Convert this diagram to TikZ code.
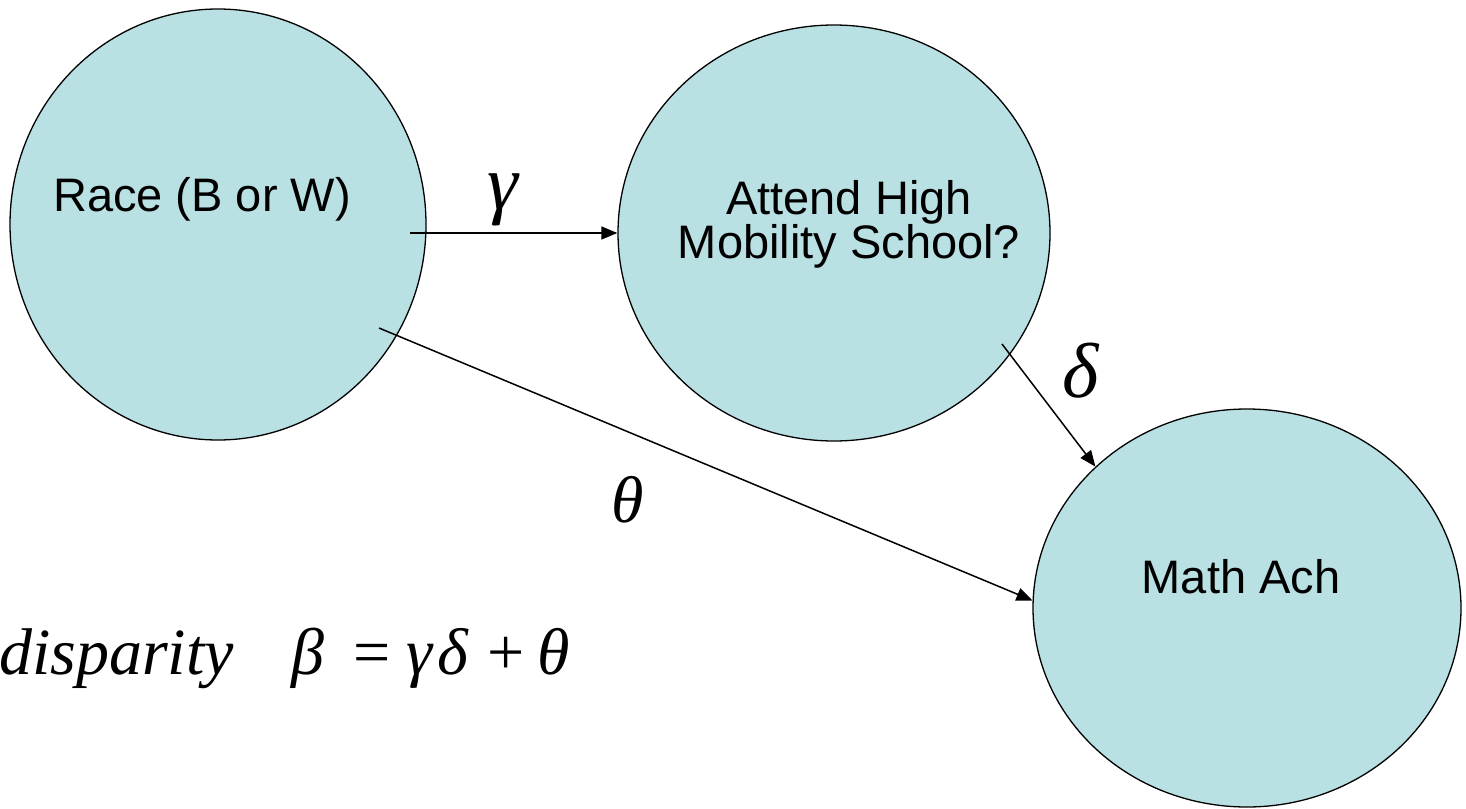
\documentclass[tikz,border=0pt]{standalone}
\usepackage{fontspec}
\setmainfont{Liberation Sans}
\newfontfamily\serifit{Liberation Serif}
\usetikzlibrary{shapes.geometric,arrows.meta}
\definecolor{nodefill}{RGB}{185,224,227}
\tikzset{
  bubble/.style={ellipse, draw=black, line width=1.3pt, fill=nodefill, inner sep=0pt},
  lbl/.style={font=\fontsize{47}{44}\selectfont, inner sep=0pt, align=center},
  greek/.style={font=\serifit\itshape\fontsize{78}{78}\selectfont, inner sep=0pt},
  conn/.style={line width=1.5pt, -{Triangle[length=16pt,width=13pt]}}
}
\newcommand{\at}[2]{\makebox[0pt][l]{\hspace{#1pt}#2}}
\begin{document}
\begin{tikzpicture}[x=1pt,y=-1pt]
\useasboundingbox (0,0) rectangle (1466,808);
\node[bubble, minimum width=416pt, minimum height=431pt] (race) at (218,224.5) {};
\node[bubble, minimum width=432pt, minimum height=416pt] (att) at (834,233) {};
\node[bubble, minimum width=428pt, minimum height=398pt] (math) at (1247,608) {};
\node[lbl, anchor=base] (racet) at (202,211) {Race (B or W)};
\node[lbl, anchor=base] (attt1) at (849,214) {Attend High};
\node[lbl, anchor=base] (attt2) at (849,258) {Mobility School?};
\node[lbl, anchor=base] (matht) at (1241,593) {Math Ach};
\coordinate (gs) at (410,233);
\coordinate (ts) at (379,328);
\coordinate (ds) at (1002,344);
\draw[conn] (gs) -- (att.west);
\draw[conn] (ts) -- (math.178);
\draw[conn] (ds) -- (math.137.6);
\node[greek] (gam) at (503,200) {γ};
\node[greek] (del) at (1081,371) {δ};
\node[greek, font=\serifit\itshape\fontsize{66}{66}\selectfont] (the) at (628,500) {θ};
\node[font=\serifit\fontsize{66}{66}\selectfont, inner sep=0pt, anchor=base west] (form) at (-1,674)
  {\at{0}{\itshape disparity}\at{292}{\itshape β}\at{354}{=}\at{407}{\itshape γ}\at{438}{\itshape δ}\at{488}{+}\hspace{538pt}{\itshape θ}};
\end{tikzpicture}
\end{document}
